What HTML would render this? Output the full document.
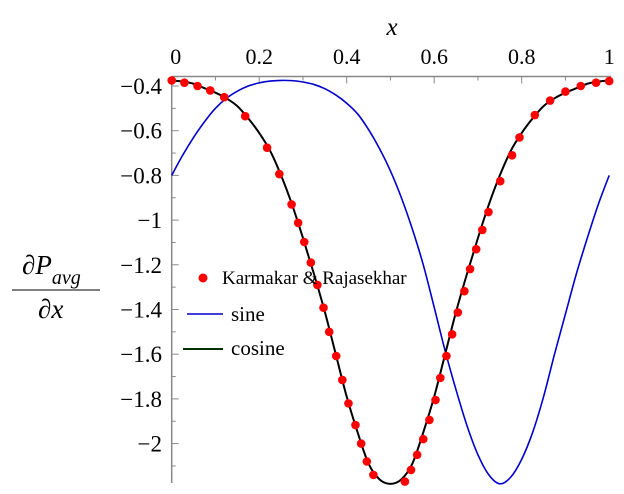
<!DOCTYPE html>
<html><head><meta charset="utf-8"><style>
body{margin:0;background:#fff;}
svg{display:block;}
text{font-family:"Liberation Serif","Times New Roman",Times,"Nimbus Roman","DejaVu Serif",serif;}
</style></head><body>
<svg id="c" width="624" height="494">
<g id="axes"></g>
<g id="series"></g>
<text x="392" y="35" font-size="25" font-style="italic" text-anchor="middle">x</text>
<g>
<text x="22" y="274" font-size="27"><tspan>∂</tspan><tspan font-style="italic">P</tspan><tspan font-size="20" font-style="italic" dy="10">avg</tspan></text>
<line x1="12" y1="290" x2="100" y2="290" stroke="#000" stroke-width="1"/>
<text x="38" y="318" font-size="27">∂<tspan font-style="italic">x</tspan></text>
</g>
<g>
<circle cx="203" cy="278" r="4.5" fill="#f00"/>
<text x="222" y="284" font-size="19">Karmakar &amp; Rajasekhar</text>
<line x1="187" y1="314" x2="223" y2="314" stroke="#00c" stroke-width="1.5"/>
<text x="231" y="321" font-size="21">sine</text>
<line x1="183" y1="349" x2="223" y2="349" stroke="#030" stroke-width="2"/>
<text x="231" y="355" font-size="21">cosine</text>
</g>
</svg>
<script>
const xs=[0,0.025,0.05,0.075,0.1,0.125,0.15,0.175,0.2,0.225,0.25,0.275,0.3,0.325,0.35,0.375,0.4,0.425,0.45,0.475,0.5,0.525,0.55,0.575,0.6,0.625,0.65,0.675,0.7,0.725,0.75,0.775,0.8,0.825,0.85,0.875,0.9,0.925,0.95,0.975,1];
const cosineVals=[-0.375,-0.38,-0.39,-0.41,-0.43,-0.455,-0.49,-0.545,-0.61,-0.69,-0.8,-0.93,-1.08,-1.24,-1.41,-1.6,-1.79,-1.95,-2.09,-2.16,-2.18,-2.16,-2.09,-1.95,-1.79,-1.6,-1.41,-1.24,-1.08,-0.93,-0.8,-0.69,-0.61,-0.545,-0.49,-0.455,-0.43,-0.41,-0.39,-0.38,-0.375];
const sineVals=[-0.8,-0.71,-0.63,-0.56,-0.5,-0.455,-0.423,-0.4,-0.386,-0.378,-0.375,-0.376,-0.382,-0.393,-0.412,-0.44,-0.477,-0.525,-0.595,-0.68,-0.78,-0.9,-1.04,-1.2,-1.39,-1.585,-1.76,-1.92,-2.05,-2.14,-2.18,-2.15,-2.07,-1.95,-1.79,-1.6,-1.42,-1.24,-1.08,-0.93,-0.8];
const dotX=[0,0.029,0.059,0.088,0.12,0.168,0.218,0.246,0.274,0.289,0.303,0.318,0.333,0.347,0.36,0.376,0.39,0.404,0.42,0.433,0.446,0.461,0.533,0.547,0.561,0.575,0.589,0.603,0.614,0.628,0.641,0.654,0.669,0.682,0.696,0.71,0.724,0.751,0.778,0.795,0.83,0.865,0.9,0.935,0.97,1];
const dotY=[-0.375,-0.385,-0.4,-0.42,-0.45,-0.535,-0.676,-0.794,-0.93,-1.012,-1.098,-1.19,-1.29,-1.392,-1.5,-1.608,-1.715,-1.82,-1.917,-2.0,-2.08,-2.14,-2.17,-2.118,-2.05,-1.98,-1.894,-1.805,-1.706,-1.608,-1.511,-1.413,-1.318,-1.219,-1.13,-1.044,-0.964,-0.826,-0.71,-0.63,-0.53,-0.465,-0.425,-0.4,-0.385,-0.378];
const xTicks=[0,0.2,0.4,0.6,0.8,1];
const xTickLabels=["0","0.2","0.4","0.6","0.8","1"];
const yTicks=[-0.4,-0.6,-0.8,-1,-1.2,-1.4,-1.6,-1.8,-2];
const yTickLabels=["−0.4","−0.6","−0.8","−1","−1.2","−1.4","−1.6","−1.8","−2"];
const X0=171.7,X1=609.2,AY=76.5,YB=483;
const sx=v=>X0+(X1-X0)*v;
const sy=v=>86+(-0.4-v)*223.5;
const NS='http://www.w3.org/2000/svg';
function mk(tag,at,parent){const e=document.createElementNS(NS,tag);for(const k in at)e.setAttribute(k,at[k]);parent.appendChild(e);return e;}
const ax=document.getElementById('axes');
let l=mk('line',{x1:X0,y1:AY,x2:X1+2,y2:AY,stroke:'#888','stroke-width':1.5},ax);


l=mk('line',{x1:X0,y1:AY,x2:X0,y2:YB,stroke:'#888','stroke-width':1.5},ax);


for(let i=0;i<=10;i++){const v=i/10;const t=mk('line',{x1:sx(v),y1:AY,x2:sx(v),y2:AY+(i%2?4:7),stroke:'#888','stroke-width':1},ax);

}
xTicks.forEach((v,i)=>{const t=mk('text',{x:sx(v)+(i==0?4:0),y:64,'font-size':22,'text-anchor':'middle'},ax);t.textContent=xTickLabels[i];

});
for(let v=-0.4;v>=-2.15;v-=0.1){const major=Math.abs(Math.round(v*10))%2==0;const t=mk('line',{x1:X0,y1:sy(v),x2:X0+(major?7:4),y2:sy(v),stroke:'#888','stroke-width':1},ax);

}
yTicks.forEach((v,i)=>{const t=mk('text',{x:162,y:sy(v)+8,'font-size':23,'text-anchor':'end'},ax);t.textContent=yTickLabels[i];

});
function smooth(ys){const p=xs.map((x,i)=>[sx(x),sy(ys[i])]);let d='M'+p[0][0]+','+p[0][1];
for(let i=0;i<p.length-1;i++){const a=p[Math.max(0,i-1)],b=p[i],c=p[i+1],e=p[Math.min(p.length-1,i+2)];
d+=' C'+(b[0]+(c[0]-a[0])/6)+','+(b[1]+(c[1]-a[1])/6)+' '+(c[0]-(e[0]-b[0])/6)+','+(c[1]-(e[1]-b[1])/6)+' '+c[0]+','+c[1];}return d;}
const sg=document.getElementById('series');
const sp=mk('path',{d:smooth(sineVals),fill:'none',stroke:'#00c','stroke-width':1.6},sg);


const cp=mk('path',{d:smooth(cosineVals),fill:'none',stroke:'#000','stroke-width':2},sg);


dotX.forEach((x,i)=>{const c=mk('circle',{cx:sx(x),cy:sy(dotY[i]),r:4.3,fill:'#f00'},sg);

});
</script>
</body></html>
